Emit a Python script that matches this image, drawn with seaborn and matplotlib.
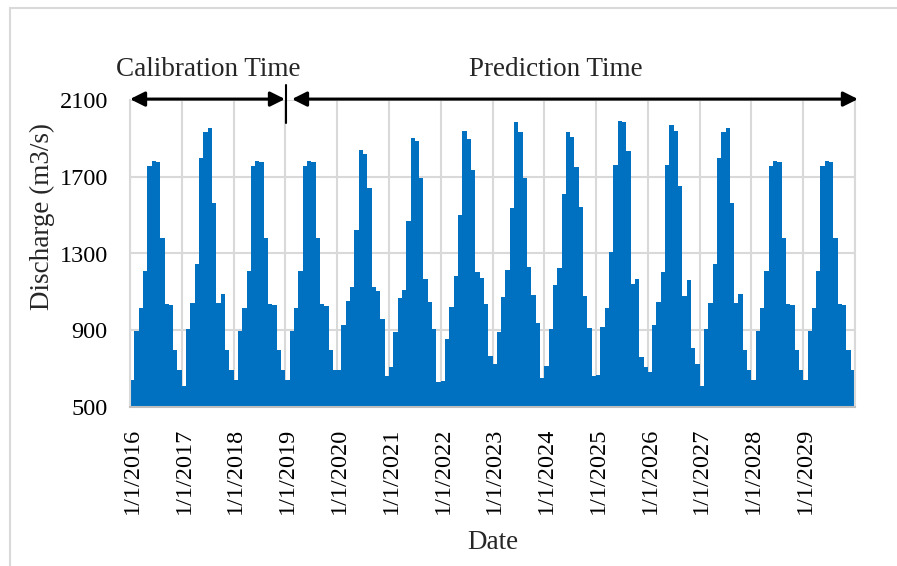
import numpy as np
import pandas as pd
import seaborn as sns
import matplotlib.pyplot as plt
from matplotlib.lines import Line2D

# Monthly discharge (m3/s)
years = list(range(2016, 2030))
q2016 = [640, 895, 1017, 1207, 1754, 1781, 1775, 1381, 1035, 1030, 795, 693]
q2017 = [612, 907, 1044, 1246, 1798, 1935, 1956, 1565, 1040, 1088, 798, 693]
q2018 = [640, 895, 1017, 1207, 1754, 1781, 1775, 1381, 1035, 1030, 795, 693]
q2019 = [640, 895, 1017, 1207, 1754, 1781, 1775, 1381, 1035, 1026, 795, 693]
q2020 = [693, 926, 1053, 1128, 1421, 1842, 1816, 1640, 1123, 1102, 960, 663]
q2021 = [711, 889, 1070, 1109, 1468, 1904, 1886, 1693, 1167, 1049, 904, 632]
q2022 = [637, 854, 1023, 1184, 1500, 1939, 1895, 1733, 1202, 1172, 1039, 767]
q2023 = [725, 891, 1075, 1214, 1539, 1986, 1933, 1693, 1228, 1084, 939, 649]
q2024 = [714, 904, 1137, 1223, 1611, 1935, 1907, 1751, 1540, 1079, 912, 661]
q2025 = [665, 916, 1017, 1307, 1760, 1991, 1986, 1833, 1140, 1167, 763, 711]
q2026 = [684, 925, 1049, 1205, 1760, 1968, 1939, 1654, 1079, 1163, 807, 725]
q2027 = [611, 907, 1044, 1246, 1798, 1935, 1956, 1565, 1040, 1088, 795, 693]
q2028 = [640, 895, 1017, 1207, 1754, 1781, 1775, 1381, 1035, 1030, 795, 693]
q2029 = [640, 895, 1017, 1207, 1754, 1781, 1775, 1381, 1035, 1030, 795, 693]

discharge = (q2016 + q2017 + q2018 + q2019 + q2020 + q2021 + q2022 + q2023
             + q2024 + q2025 + q2026 + q2027 + q2028 + q2029)
year_labels = [f"1/1/{y}" for y in years]
y_ticks = [500, 900, 1300, 1700, 2100]

df = pd.DataFrame({"month": np.arange(len(discharge)), "discharge": discharge})

sns.set_style("white")
plt.rcParams['font.family'] = ['Liberation Serif', 'DejaVu Serif']

fig = plt.figure(figsize=(8.97, 5.66), dpi=100)
ax = fig.add_axes([130 / 897, 159 / 566, 725 / 897, 307 / 566])

sns.barplot(data=df, x="month", y="discharge", color="#0070C0", width=1.0,
            saturation=1, linewidth=0, ax=ax, zorder=2)

n = len(discharge)
ax.set_xlim(-0.5, n - 0.5)
ax.set_ylim(500, 2100)
ax.set_yticks(y_ticks)
ax.set_yticklabels([str(v) for v in y_ticks])
bounds = [12 * i - 0.5 for i in range(len(years))]
ax.set_xticks([b + 0.5 for b in bounds])
ax.set_xticklabels(year_labels, rotation=90, va="top", ha="center")
ax.tick_params(axis="both", length=0, labelsize=17.5, colors="black")
ax.tick_params(axis="y", pad=16)
ax.tick_params(axis="x", pad=15)

grid_c = "#d9d9d9"
for v in y_ticks[1:]:
    ax.axhline(v, color=grid_c, lw=1.5, zorder=1)
for b in bounds + [n - 0.5]:
    ax.axvline(b, color=grid_c, lw=1.5, zorder=1)

ax.spines["top"].set_visible(False)
for s in ["left", "right"]:
    ax.spines[s].set_color(grid_c)
    ax.spines[s].set_linewidth(1.5)
ax.spines["bottom"].set_color("#bfbfbf")
ax.spines["bottom"].set_linewidth(1.5)
ax.spines["bottom"].set_zorder(3)

ax.set_ylabel("Discharge (m3/s)", fontsize=19.5)
ax.yaxis.set_label_coords(-0.104, 0.622)
ax.set_xlabel("Date", fontsize=19.5)
ax.xaxis.set_label_coords(0.5, -0.40)

# period annotations
arrow_y = 1.003
arrow_kw = dict(arrowstyle="<|-|>", color="black", lw=2.2, mutation_scale=22,
                shrinkA=0, shrinkB=0)
ax.annotate("", xy=(0.0, arrow_y), xytext=(0.2138, arrow_y),
            xycoords="axes fraction", arrowprops=arrow_kw, annotation_clip=False)
ax.annotate("", xy=(0.2234, arrow_y), xytext=(1.0041, arrow_y),
            xycoords="axes fraction", arrowprops=arrow_kw, annotation_clip=False)
ax.plot([0.2152, 0.2152], [0.925, 1.049], color="black", lw=1.5,
        transform=ax.transAxes, clip_on=False, zorder=5)
ax.text(0.1076, 1.098, "Calibration Time", transform=ax.transAxes,
        ha="center", va="center", fontsize=19.5)
ax.text(0.5876, 1.098, "Prediction Time", transform=ax.transAxes,
        ha="center", va="center", fontsize=19.5)

# outer chart border (cut off on right and bottom)
fig.add_artist(Line2D([9.5 / 897, 9.5 / 897], [0, 1 - 8 / 566], color=grid_c,
                      lw=1.5, transform=fig.transFigure))
fig.add_artist(Line2D([9.5 / 897, 1], [1 - 8 / 566, 1 - 8 / 566], color=grid_c,
                      lw=1.5, transform=fig.transFigure))

fig.savefig("out.png", dpi=100)
